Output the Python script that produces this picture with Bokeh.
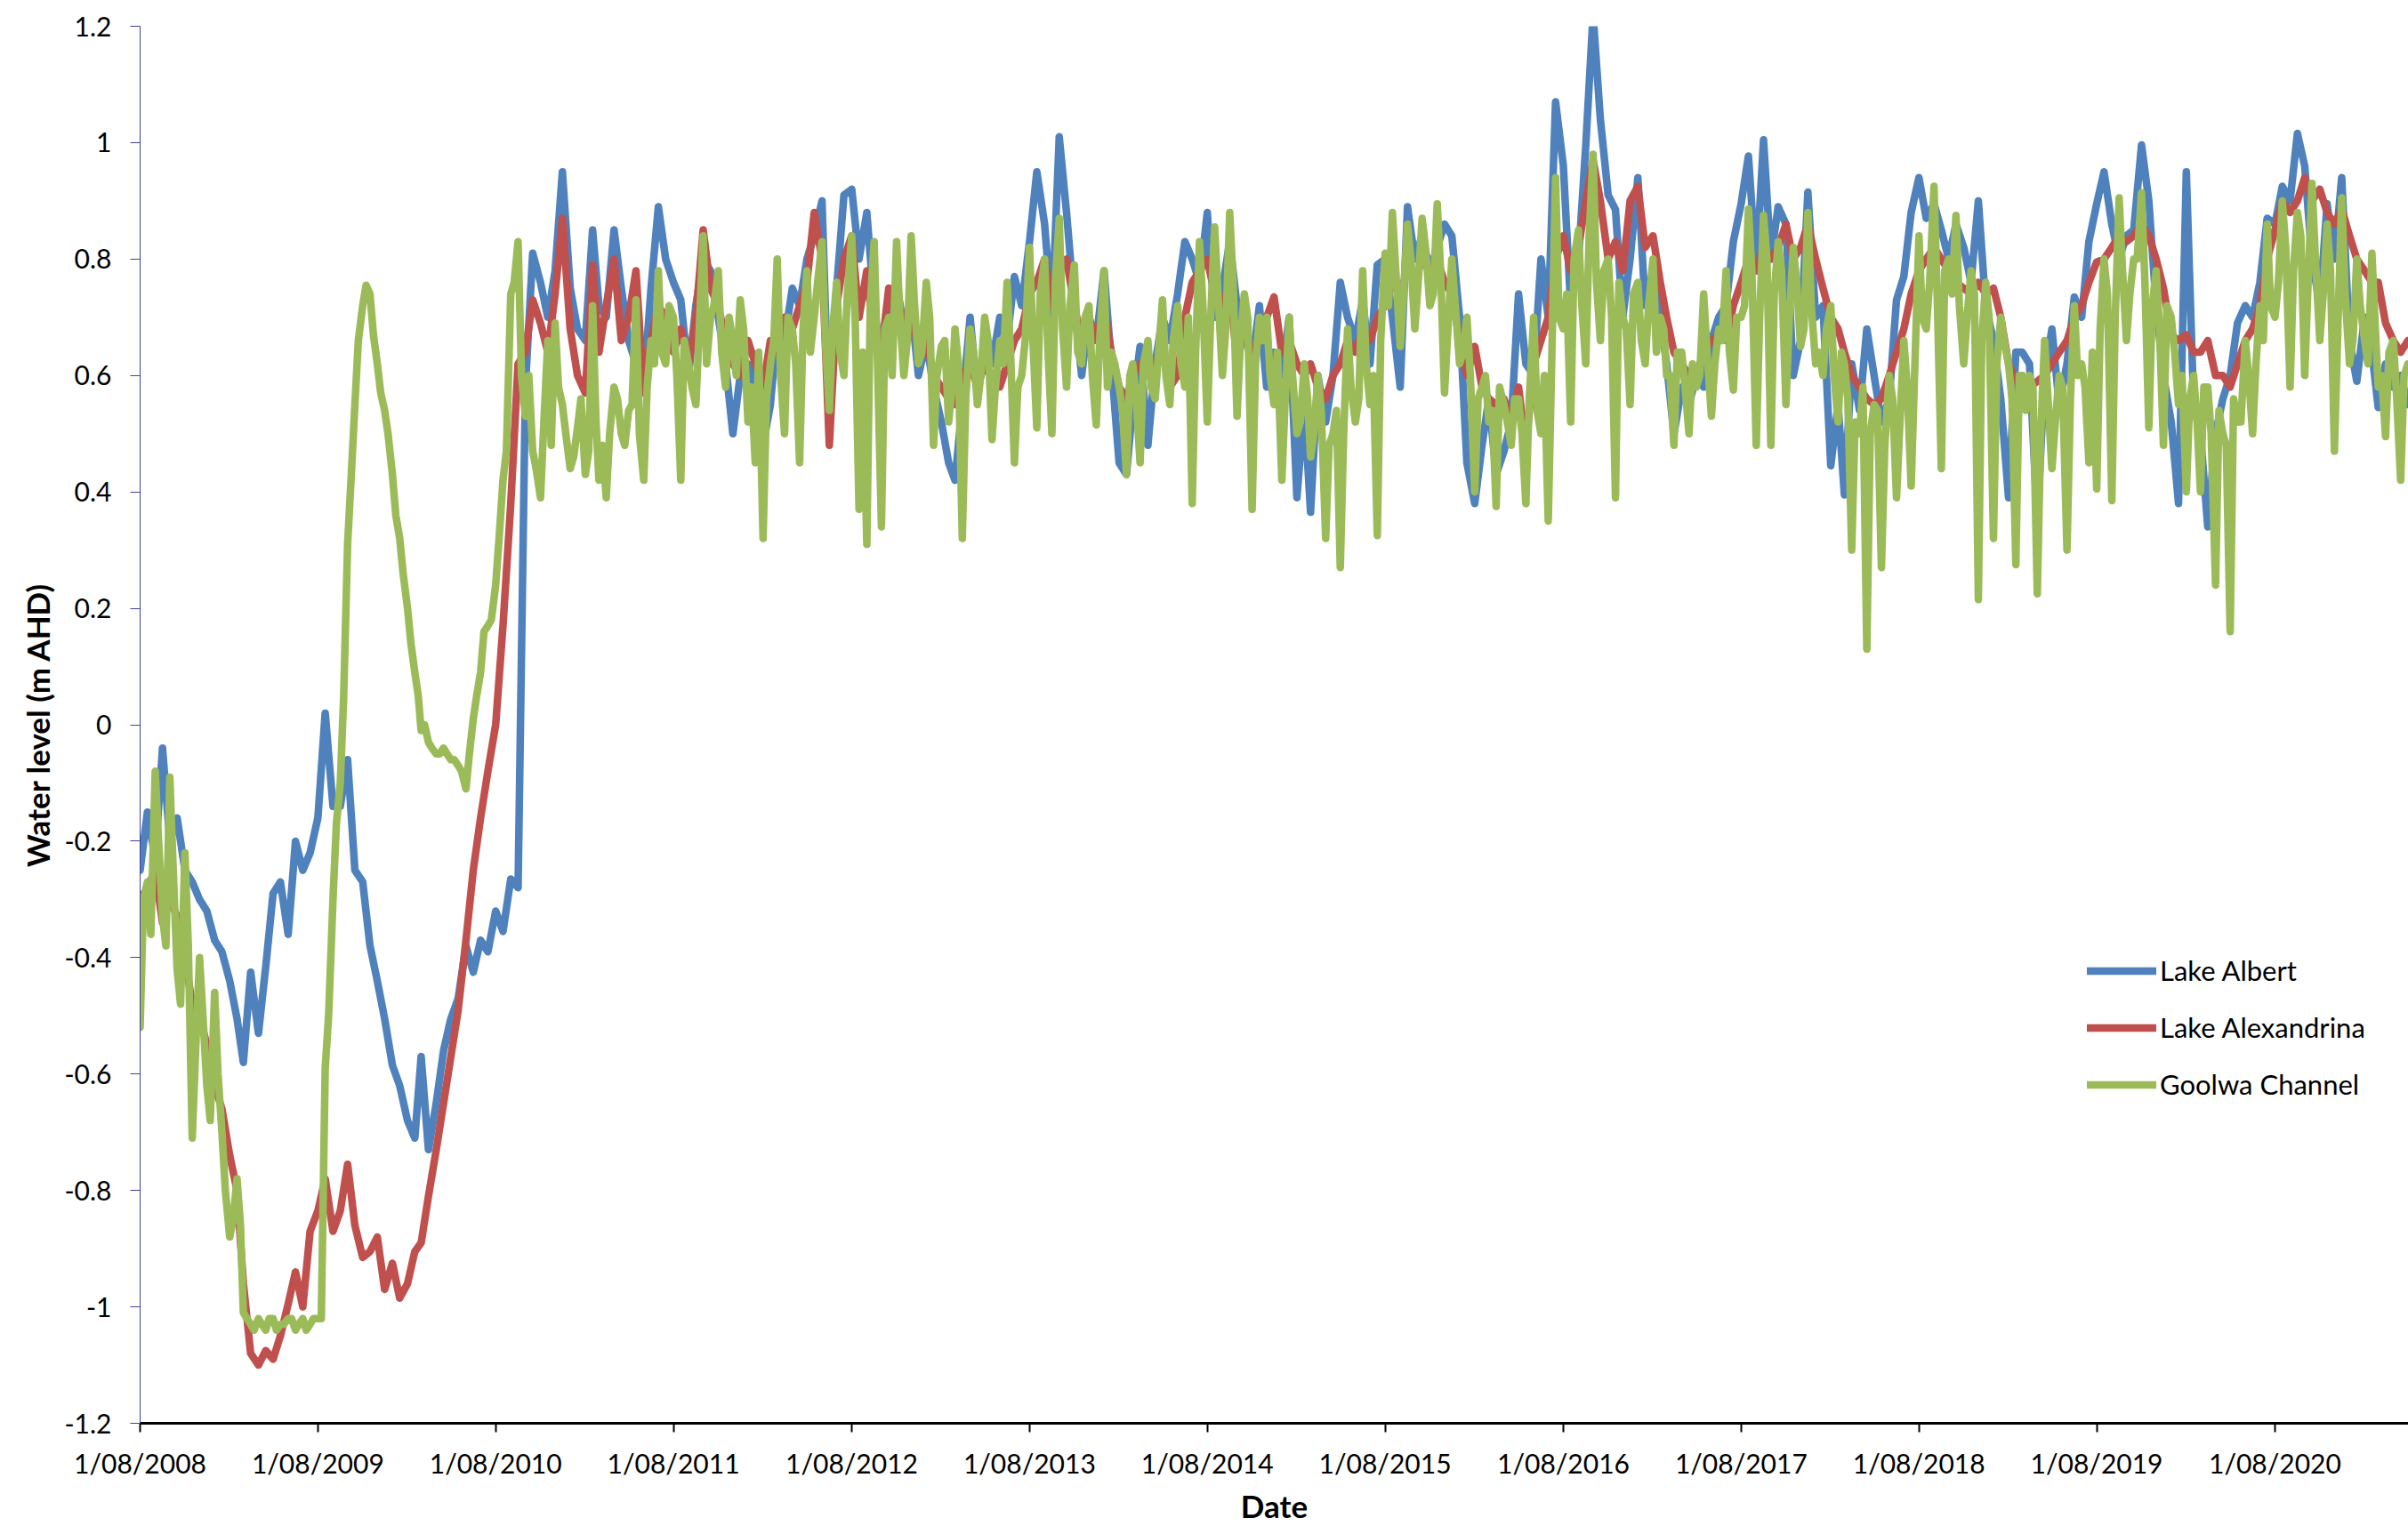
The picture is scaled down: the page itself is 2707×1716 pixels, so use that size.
from datetime import datetime
from bokeh.plotting import figure
from bokeh.models import Range1d, FixedTicker, Legend, LegendItem
from bokeh.embed import file_html
from bokeh.resources import INLINE

# ---------------- data ----------------
x_tick_labels = ["1/08/2008", "1/08/2009", "1/08/2010", "1/08/2011", "1/08/2012",
                 "1/08/2013", "1/08/2014", "1/08/2015", "1/08/2016", "1/08/2017",
                 "1/08/2018", "1/08/2019", "1/08/2020"]
y_tick_values = [-1.2, -1.0, -0.8, -0.6, -0.4, -0.2, 0.0, 0.2, 0.4, 0.6, 0.8, 1.0, 1.2]
y_tick_labels = ["-1.2", "-1", "-0.8", "-0.6", "-0.4", "-0.2", "0", "0.2", "0.4",
                 "0.6", "0.8", "1", "1.2"]
series_names = ["Lake Albert", "Lake Alexandrina", "Goolwa Channel"]

# water level (m AHD), read twice a month (1st and 16th) from 1 Aug 2008
lake_albert = [
    -0.25, -0.15, -0.23, -0.04, -0.20, -0.16, -0.25, -0.27, -0.30, -0.32, -0.37, -0.39,
    -0.44, -0.505, -0.58, -0.425, -0.53, -0.415, -0.29, -0.27, -0.36, -0.20, -0.25, -0.22,
    -0.16, 0.02, -0.14, -0.14, -0.06, -0.25, -0.27, -0.38, -0.44, -0.505, -0.585, -0.62,
    -0.68, -0.71, -0.57, -0.73, -0.65, -0.56, -0.505, -0.47, -0.38, -0.425, -0.37, -0.39,
    -0.32, -0.355, -0.265, -0.28, 0.58, 0.81, 0.76, 0.70, 0.78, 0.95, 0.75, 0.68,
    0.66, 0.85, 0.72, 0.70, 0.85, 0.75, 0.66, 0.62, 0.58, 0.75, 0.89, 0.80,
    0.76, 0.73, 0.60, 0.72, 0.80, 0.78, 0.70, 0.62, 0.50, 0.60, 0.62, 0.58,
    0.48, 0.55, 0.68, 0.66, 0.75, 0.72, 0.80, 0.84, 0.90, 0.50, 0.75, 0.91,
    0.92, 0.80, 0.88, 0.72, 0.62, 0.72, 0.76, 0.68, 0.72, 0.60, 0.66, 0.58,
    0.52, 0.45, 0.42, 0.55, 0.70, 0.57, 0.64, 0.62, 0.70, 0.66, 0.77, 0.72,
    0.83, 0.95, 0.86, 0.70, 1.01, 0.88, 0.72, 0.60, 0.70, 0.66, 0.78, 0.62,
    0.45, 0.43, 0.55, 0.65, 0.48, 0.62, 0.70, 0.66, 0.74, 0.83, 0.80, 0.76,
    0.88, 0.70, 0.75, 0.83, 0.72, 0.68, 0.62, 0.72, 0.58, 0.64, 0.60, 0.70,
    0.39, 0.55, 0.365, 0.60, 0.52, 0.60, 0.76, 0.70, 0.66, 0.73, 0.62, 0.79,
    0.80, 0.70, 0.58, 0.89, 0.80, 0.84, 0.78, 0.82, 0.86, 0.84, 0.70, 0.45,
    0.38, 0.48, 0.56, 0.43, 0.47, 0.52, 0.74, 0.62, 0.60, 0.80, 0.70, 1.07,
    0.96, 0.72, 0.80, 0.995, 1.22, 1.04, 0.91, 0.885, 0.70, 0.80, 0.94, 0.72,
    0.78, 0.70, 0.62, 0.50, 0.58, 0.55, 0.60, 0.58, 0.66, 0.70, 0.72, 0.83,
    0.895, 0.977, 0.78, 1.005, 0.80, 0.89, 0.86, 0.60, 0.66, 0.915, 0.70, 0.72,
    0.445, 0.55, 0.395, 0.62, 0.54, 0.68, 0.60, 0.52, 0.56, 0.73, 0.77, 0.88,
    0.94, 0.87, 0.895, 0.85, 0.80, 0.86, 0.82, 0.76, 0.90, 0.72, 0.66, 0.56,
    0.39, 0.64, 0.64, 0.62, 0.35, 0.60, 0.68, 0.55, 0.62, 0.735, 0.70, 0.83,
    0.895, 0.95, 0.86, 0.80, 0.84, 0.85, 0.996, 0.90, 0.72, 0.60, 0.52, 0.38,
    0.95, 0.55, 0.50, 0.34, 0.50, 0.56, 0.60, 0.69, 0.72, 0.70, 0.76, 0.87,
    0.86, 0.925, 0.90, 1.016, 0.96, 0.80, 0.72, 0.895, 0.80, 0.94, 0.66, 0.59,
    0.70, 0.64, 0.545, 0.62, 0.58, 0.60, 0.55,
]

lake_alexandrina = [
    -0.30, -0.28, -0.25, -0.34, -0.30, -0.33, -0.40, -0.48, -0.50, -0.55, -0.62, -0.66,
    -0.74, -0.80, -0.96, -1.08, -1.10, -1.075, -1.09, -1.05, -0.995, -0.94, -1.00, -0.87,
    -0.835, -0.78, -0.87, -0.835, -0.755, -0.86, -0.915, -0.905, -0.88, -0.97, -0.925, -0.985,
    -0.96, -0.905, -0.89, -0.81, -0.73, -0.65, -0.57, -0.49, -0.37, -0.25, -0.16, -0.08,
    0.00, 0.17, 0.38, 0.62, 0.64, 0.73, 0.69, 0.64, 0.74, 0.87, 0.68, 0.60,
    0.57, 0.79, 0.64, 0.72, 0.80, 0.66, 0.70, 0.78, 0.57, 0.66, 0.72, 0.70,
    0.64, 0.68, 0.62, 0.70, 0.85, 0.75, 0.72, 0.66, 0.62, 0.60, 0.66, 0.62,
    0.58, 0.66, 0.64, 0.70, 0.68, 0.72, 0.76, 0.88, 0.80, 0.48, 0.72, 0.80,
    0.84, 0.70, 0.78, 0.66, 0.64, 0.75, 0.72, 0.70, 0.72, 0.64, 0.66, 0.60,
    0.58, 0.56, 0.55, 0.60, 0.62, 0.58, 0.62, 0.60, 0.58, 0.62, 0.66, 0.68,
    0.74, 0.76, 0.80, 0.72, 0.78, 0.80, 0.72, 0.66, 0.70, 0.66, 0.72, 0.64,
    0.58, 0.56, 0.60, 0.62, 0.60, 0.62, 0.64, 0.58, 0.60, 0.70, 0.76, 0.78,
    0.80, 0.74, 0.72, 0.76, 0.62, 0.68, 0.64, 0.66, 0.70, 0.735, 0.64, 0.66,
    0.62, 0.60, 0.62, 0.58, 0.56, 0.60, 0.62, 0.66, 0.64, 0.68, 0.66, 0.70,
    0.72, 0.76, 0.74, 0.78, 0.76, 0.80, 0.78, 0.80, 0.76, 0.74, 0.66, 0.60,
    0.65, 0.58, 0.56, 0.55, 0.56, 0.52, 0.58, 0.475, 0.62, 0.66, 0.70, 0.80,
    0.84, 0.78, 0.82, 0.90, 0.97, 0.90, 0.80, 0.83, 0.78, 0.90, 0.925, 0.82,
    0.84, 0.76, 0.70, 0.64, 0.62, 0.60, 0.60, 0.64, 0.66, 0.67, 0.66, 0.72,
    0.76, 0.80, 0.78, 0.82, 0.80, 0.82, 0.86, 0.80, 0.82, 0.86, 0.80, 0.75,
    0.70, 0.68, 0.64, 0.60, 0.58, 0.56, 0.55, 0.56, 0.60, 0.64, 0.68, 0.74,
    0.78, 0.80, 0.82, 0.80, 0.78, 0.76, 0.75, 0.74, 0.76, 0.74, 0.75, 0.70,
    0.62, 0.59, 0.60, 0.58, 0.59, 0.60, 0.62, 0.64, 0.66, 0.70, 0.72, 0.76,
    0.795, 0.80, 0.82, 0.84, 0.83, 0.84, 0.86, 0.84, 0.80, 0.75, 0.67, 0.66,
    0.67, 0.64, 0.64, 0.66, 0.60, 0.60, 0.58, 0.62, 0.66, 0.68, 0.72, 0.80,
    0.85, 0.90, 0.88, 0.90, 0.94, 0.90, 0.92, 0.88, 0.86, 0.886, 0.84, 0.80,
    0.78, 0.76, 0.76, 0.69, 0.66, 0.64, 0.66,
]

goolwa_channel = [
    -0.52, -0.27, -0.08, -0.33, -0.09, -0.42, -0.22, -0.71, -0.40, -0.62, -0.46, -0.70,
    -0.88, -0.78, -1.01, -1.03, -1.02, -1.04, -1.02, -1.03, -1.02, -1.04, -1.02, -1.03,
    -1.02, -0.59, -0.30, -0.10, 0.31, 0.55, 0.72, 0.74, 0.62, 0.54, 0.43, 0.32,
    0.20, 0.09, -0.01, -0.03, -0.05, -0.04, -0.06, -0.07, -0.11, 0.01, 0.09, 0.17,
    0.24, 0.42, 0.74, 0.83, 0.53, 0.47, 0.39, 0.66, 0.69, 0.55, 0.44, 0.51,
    0.43, 0.72, 0.42, 0.39, 0.58, 0.50, 0.54, 0.73, 0.42, 0.66, 0.78, 0.62,
    0.70, 0.42, 0.62, 0.55, 0.84, 0.70, 0.78, 0.58, 0.66, 0.73, 0.52, 0.45,
    0.32, 0.62, 0.80, 0.50, 0.68, 0.45, 0.78, 0.70, 0.83, 0.54, 0.76, 0.60,
    0.84, 0.37, 0.31, 0.83, 0.34, 0.70, 0.83, 0.60, 0.84, 0.62, 0.76, 0.48,
    0.65, 0.52, 0.68, 0.32, 0.68, 0.55, 0.70, 0.49, 0.66, 0.76, 0.45, 0.60,
    0.82, 0.51, 0.80, 0.50, 0.87, 0.58, 0.79, 0.62, 0.72, 0.515, 0.78, 0.64,
    0.58, 0.43, 0.62, 0.45, 0.66, 0.56, 0.73, 0.55, 0.72, 0.58, 0.38, 0.83,
    0.52, 0.855, 0.60, 0.88, 0.53, 0.74, 0.37, 0.70, 0.70, 0.55, 0.42, 0.70,
    0.50, 0.62, 0.46, 0.60, 0.32, 0.50, 0.27, 0.68, 0.52, 0.78, 0.55, 0.325,
    0.81, 0.88, 0.65, 0.86, 0.68, 0.87, 0.72, 0.895, 0.57, 0.80, 0.62, 0.70,
    0.40, 0.58, 0.52, 0.375, 0.55, 0.48, 0.56, 0.38, 0.70, 0.50, 0.35, 0.94,
    0.68, 0.52, 0.85, 0.62, 0.98, 0.66, 0.80, 0.39, 0.70, 0.55, 0.76, 0.62,
    0.80, 0.70, 0.60, 0.48, 0.64, 0.50, 0.58, 0.74, 0.53, 0.68, 0.78, 0.575,
    0.70, 0.886, 0.48, 0.875, 0.48, 0.83, 0.55, 0.82, 0.65, 0.88, 0.62, 0.60,
    0.72, 0.52, 0.62, 0.30, 0.50, 0.13, 0.55, 0.27, 0.60, 0.39, 0.66, 0.41,
    0.84, 0.68, 0.925, 0.44, 0.80, 0.875, 0.62, 0.78, 0.215, 0.76, 0.32, 0.70,
    0.62, 0.275, 0.60, 0.60, 0.225, 0.66, 0.44, 0.60, 0.30, 0.72, 0.62, 0.45,
    0.405, 0.80, 0.385, 0.905, 0.66, 0.80, 0.914, 0.51, 0.78, 0.48, 0.70, 0.55,
    0.40, 0.60, 0.40, 0.58, 0.24, 0.50, 0.16, 0.52, 0.66, 0.50, 0.72, 0.86,
    0.70, 0.90, 0.58, 0.88, 0.60, 0.93, 0.66, 0.86, 0.47, 0.905, 0.62, 0.80,
    0.66, 0.81, 0.58, 0.495, 0.66, 0.42, 0.62,
]

# Goolwa Channel, extra readings on the 8th and 23rd of each month
goolwa_channel_mid = [
    -0.30, -0.36, -0.20, -0.38, -0.25, -0.48, -0.38, -0.56, -0.50, -0.68, -0.60, -0.80,
    -0.85, -0.86, -1.02, -1.04, -1.03, -1.02, -1.04, -1.03, -1.02, -1.03, -1.04, -1.02,
    -1.02, -0.50, -0.17, 0.05, 0.42, 0.66, 0.755, 0.67, 0.57, 0.50, 0.36, 0.26,
    0.14, 0.05, 0.00, -0.04, -0.05, -0.05, -0.06, -0.08, -0.05, 0.05, 0.16, 0.18,
    0.32, 0.47, 0.76, 0.60, 0.60, 0.44, 0.52, 0.48, 0.58, 0.50, 0.46, 0.56,
    0.47, 0.52, 0.48, 0.50, 0.56, 0.48, 0.55, 0.50, 0.58, 0.62, 0.64, 0.72,
    0.60, 0.66, 0.58, 0.68, 0.62, 0.72, 0.64, 0.70, 0.60, 0.68, 0.58, 0.64,
    0.56, 0.66, 0.60, 0.70, 0.62, 0.68, 0.64, 0.76, 0.66, 0.68, 0.64, 0.74,
    0.70, 0.64, 0.72, 0.62, 0.68, 0.60, 0.70, 0.66, 0.72, 0.64, 0.70, 0.60,
    0.66, 0.58, 0.62, 0.56, 0.64, 0.60, 0.66, 0.58, 0.62, 0.64, 0.58, 0.66,
    0.66, 0.74, 0.64, 0.76, 0.68, 0.72, 0.64, 0.70, 0.60, 0.66, 0.58, 0.62,
    0.54, 0.60, 0.56, 0.62, 0.58, 0.64, 0.60, 0.66, 0.62, 0.70, 0.64, 0.72,
    0.70, 0.74, 0.68, 0.76, 0.66, 0.70, 0.62, 0.66, 0.60, 0.64, 0.56, 0.60,
    0.52, 0.56, 0.50, 0.54, 0.48, 0.54, 0.50, 0.58, 0.56, 0.62, 0.60, 0.66,
    0.72, 0.78, 0.74, 0.80, 0.76, 0.82, 0.74, 0.78, 0.68, 0.72, 0.64, 0.60,
    0.56, 0.60, 0.54, 0.58, 0.52, 0.56, 0.50, 0.56, 0.54, 0.60, 0.62, 0.70,
    0.74, 0.80, 0.72, 0.84, 0.76, 0.78, 0.70, 0.76, 0.68, 0.74, 0.66, 0.72,
    0.64, 0.68, 0.60, 0.64, 0.58, 0.62, 0.60, 0.64, 0.62, 0.66, 0.64, 0.70,
    0.72, 0.78, 0.70, 0.80, 0.74, 0.78, 0.70, 0.76, 0.68, 0.72, 0.64, 0.68,
    0.60, 0.64, 0.56, 0.52, 0.58, 0.50, 0.54, 0.48, 0.56, 0.52, 0.58, 0.60,
    0.70, 0.76, 0.72, 0.78, 0.74, 0.72, 0.70, 0.74, 0.66, 0.70, 0.62, 0.66,
    0.56, 0.60, 0.54, 0.58, 0.50, 0.56, 0.52, 0.58, 0.56, 0.60, 0.58, 0.64,
    0.68, 0.74, 0.70, 0.78, 0.74, 0.80, 0.76, 0.72, 0.68, 0.72, 0.64, 0.60,
    0.56, 0.52, 0.58, 0.50, 0.54, 0.48, 0.56, 0.52, 0.60, 0.62, 0.66, 0.72,
    0.76, 0.82, 0.78, 0.84, 0.76, 0.80, 0.74, 0.78, 0.68, 0.74, 0.66, 0.72,
    0.62, 0.68, 0.60, 0.64, 0.56, 0.60,
]

assert len(lake_albert) == len(lake_alexandrina) == len(goolwa_channel)
assert len(goolwa_channel_mid) == len(goolwa_channel) - 1


def half_month_dates(n, days=(1, 16)):
    out = []
    for k in range(n):
        m = 7 + k // 2  # months counted from January 2008
        out.append(datetime(2008 + m // 12, m % 12 + 1, days[k % 2]))
    return out


dates = half_month_dates(len(lake_albert))
mid_dates = half_month_dates(len(goolwa_channel_mid), days=(8, 23))
goolwa_pts = sorted(list(zip(dates, goolwa_channel)) + list(zip(mid_dates, goolwa_channel_mid)))
goolwa_x = [d for d, _ in goolwa_pts]
goolwa_y = [v for _, v in goolwa_pts]

epoch = datetime(1970, 1, 1)
x_tick_ms = [(datetime.strptime(s, "%d/%m/%Y") - epoch).total_seconds() * 1000.0
             for s in x_tick_labels]

# ---------------- figure ----------------
FONT = "Lato"
p = figure(width=2707, height=1716, x_axis_type="datetime",
           x_range=Range1d(datetime(2008, 8, 1), datetime(2021, 5, 2)),
           y_range=Range1d(-1.2, 1.2),
           output_backend="svg", toolbar_location=None,
           min_border_left=157, min_border_right=0,
           min_border_top=29, min_border_bottom=116)
p.grid.visible = False
p.outline_line_color = None
p.background_fill_color = "white"
p.border_fill_color = "white"

xa = p.xaxis[0]
xa.ticker = FixedTicker(ticks=x_tick_ms)
xa.major_label_overrides = dict(zip(x_tick_ms, x_tick_labels))
xa.axis_line_color = "black"
xa.axis_line_width = 3
xa.major_tick_line_color = "black"
xa.major_tick_line_width = 2
xa.major_tick_out = 10
xa.major_tick_in = 0
xa.minor_tick_line_color = None
xa.major_label_text_font = FONT
xa.major_label_text_font_size = "30px"
xa.major_label_text_color = "black"
xa.major_label_standoff = 16
xa.axis_label = "Date"
xa.axis_label_text_font = FONT
xa.axis_label_text_font_style = "bold"
xa.axis_label_text_font_size = "35px"
xa.axis_label_text_color = "black"
xa.axis_label_standoff = 6

ya = p.yaxis[0]
ya.ticker = FixedTicker(ticks=y_tick_values)
ya.major_label_overrides = dict(zip(y_tick_values, y_tick_labels))
ya.axis_line_color = "#4040A0"
ya.axis_line_width = 1
ya.major_tick_line_color = "#4040A0"
ya.major_tick_line_width = 1
ya.major_tick_out = 11
ya.major_tick_in = 0
ya.minor_tick_line_color = None
ya.major_label_text_font = FONT
ya.major_label_text_font_size = "30px"
ya.major_label_text_color = "black"
ya.major_label_standoff = 21
ya.axis_label = "Water level (m AHD)"
ya.axis_label_text_font = FONT
ya.axis_label_text_font_style = "bold"
ya.axis_label_text_font_size = "35px"
ya.axis_label_text_color = "black"
ya.axis_label_standoff = 6

colors = ["#4F81BD", "#C0504D", "#9BBB59"]
series_xy = [(dates, lake_albert), (dates, lake_alexandrina), (goolwa_x, goolwa_y)]
renderers = []
for (xs, ys), col in zip(series_xy, colors):
    r = p.line(xs, ys, line_color=col, line_width=8.5,
               line_join="round", line_cap="round")
    renderers.append(r)

legend = Legend(items=[LegendItem(label=n, renderers=[r]) for n, r in zip(series_names, renderers)],
                location=(2189, 362), orientation="vertical",
                glyph_width=78, glyph_height=37, label_height=37,
                label_standoff=4, spacing=26, padding=0, margin=0,
                border_line_color=None, background_fill_alpha=0,
                label_text_font=FONT, label_text_font_size="31px",
                label_text_color="black")
p.add_layout(legend)

open("out.html", "w").write(file_html(p, INLINE))
